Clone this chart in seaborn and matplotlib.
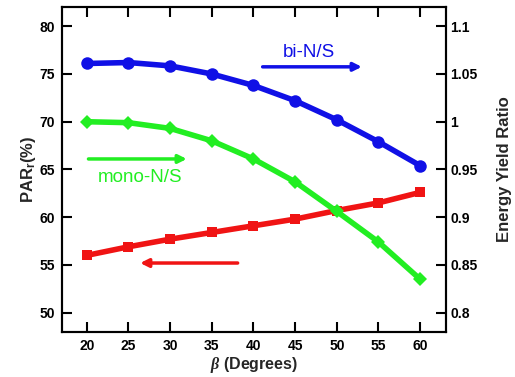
import matplotlib.pyplot as plt
import numpy as np
import pandas as pd
import seaborn as sns

# values
beta = [20, 25, 30, 35, 40, 45, 50, 55, 60]
par_r = [56.0, 56.9, 57.7, 58.4, 59.1, 59.8, 60.7, 61.5, 62.6]
bi_ns = [1.061, 1.062, 1.0585, 1.050, 1.038, 1.022, 1.002, 0.979, 0.954]
mono_ns = [1.000, 0.999, 0.993, 0.980, 0.961, 0.937, 0.906, 0.874, 0.835]

df = pd.DataFrame({"beta": beta, "par": par_r, "bi": bi_ns, "mono": mono_ns})

sns.set_theme(style="white")
plt.rcParams["font.family"] = ["Liberation Sans", "DejaVu Sans"]
plt.rcParams["font.weight"] = "bold"
plt.rcParams["mathtext.fontset"] = "custom"
plt.rcParams["mathtext.it"] = "Liberation Serif:italic"
plt.rcParams["mathtext.bf"] = "Liberation Sans:bold"
plt.rcParams["mathtext.rm"] = "Liberation Sans"

blue = "#1010e6"
green = "#22ee22"
red = "#f01414"

fig, ax = plt.subplots(figsize=(5.15, 3.77), dpi=100)
fig.subplots_adjust(left=0.12, right=0.866, top=0.981, bottom=0.12)
ax2 = ax.twinx()

sns.lineplot(data=df, x="beta", y="par", ax=ax, color=red, lw=4,
             marker="s", markersize=7, markeredgewidth=0)
sns.lineplot(data=df, x="beta", y="bi", ax=ax2, color=blue, lw=4,
             marker="o", markersize=9, markeredgewidth=0)
sns.lineplot(data=df, x="beta", y="mono", ax=ax2, color=green, lw=4,
             marker="D", markersize=7, markeredgewidth=0)

ax.set_xlim(17, 63.1)
ax.set_ylim(48, 82)
ax2.set_ylim(0.78, 1.12)
ax.set_xticks(range(20, 61, 5))
ax.set_yticks(range(50, 81, 5))
ax2.set_yticks([0.8, 0.85, 0.9, 0.95, 1.0, 1.05, 1.1])
ax2.set_yticklabels(["0.8", "0.85", "0.9", "0.95", "1", "1.05", "1.1"])

for a in (ax, ax2):
    for s in a.spines.values():
        s.set_color("black")
        s.set_linewidth(1.5)
    a.tick_params(direction="in", length=7, width=1.5, colors="black",
                  labelsize=10, pad=5)
ax.tick_params(axis="x", top=True, bottom=True)
ax.tick_params(axis="y", left=True, right=False)
ax2.tick_params(axis="y", right=True, left=False, pad=3)
for lab in ax.get_xticklabels() + ax.get_yticklabels() + ax2.get_yticklabels():
    lab.set_fontweight("bold")

ax.set_xlabel(r"$\beta$ (Degrees)", fontsize=11.5, fontweight="bold", labelpad=2)
ax.set_ylabel(r"PAR$_\mathbf{r}$(%)", fontsize=12, fontweight="bold", labelpad=1)
ax2.set_ylabel("Energy Yield Ratio", fontsize=12, fontweight="bold", labelpad=14)

arrow = dict(arrowstyle="-|>", lw=2.5, mutation_scale=12, shrinkA=0, shrinkB=0)
ax.annotate("", xy=(32.0, 66.1), xytext=(20.2, 66.1),
            arrowprops=dict(arrow, color=green))
ax.text(26.4, 64.2, "mono-N/S", color=green, fontsize=13.5, fontweight="normal",
        ha="center", va="center")
ax.annotate("", xy=(53.0, 75.75), xytext=(41.1, 75.75),
            arrowprops=dict(arrow, color=blue))
ax.text(46.6, 77.3, "bi-N/S", color=blue, fontsize=13.5, fontweight="normal",
        ha="center", va="center")
ax.annotate("", xy=(26.4, 55.2), xytext=(38.1, 55.2),
            arrowprops=dict(arrow, color=red))

fig.savefig("out.png", dpi=100)
